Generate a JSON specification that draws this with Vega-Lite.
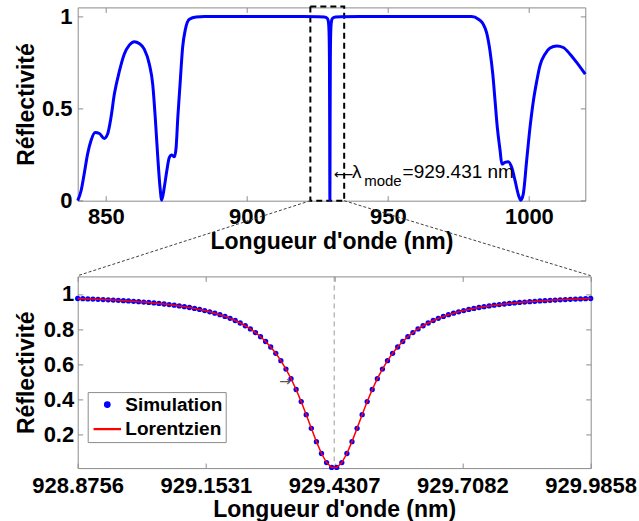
{
  "$schema": "https://vega.github.io/schema/vega-lite/v6.json",
  "padding": {"left": 14.7, "top": 4.4, "right": 0, "bottom": 0},
  "bounds": "flush",
  "spacing": 75,
  "config": {
    "view": {"stroke": "#8c8c8c", "strokeWidth": 1},
    "font": "Liberation Sans",
    "axis": {
      "domain": false, "grid": false, "tickSize": -5, "tickColor": "#8c8c8c", "tickWidth": 1,
      "labelFont": "Liberation Sans", "labelFontSize": 22, "labelFontWeight": "bold", "labelColor": "#000000",
      "titleFont": "Liberation Sans", "titleFontSize": 23, "titleFontWeight": "bold", "titleColor": "#000000",
      "labelFlush": false, "labelOverlap": false, "labelBound": false
    }
  },
  "datasets": {
    "spectre": [
      {"lambda": 840.0, "R": 0.0}, {"lambda": 841.2, "R": 0.054}, {"lambda": 842.3, "R": 0.145}, {"lambda": 843.5, "R": 0.253},
      {"lambda": 844.7, "R": 0.326}, {"lambda": 846.2, "R": 0.371}, {"lambda": 847.7, "R": 0.365}, {"lambda": 849.4, "R": 0.338},
      {"lambda": 850.6, "R": 0.362}, {"lambda": 851.8, "R": 0.452}, {"lambda": 853.0, "R": 0.579}, {"lambda": 854.8, "R": 0.705},
      {"lambda": 856.5, "R": 0.796}, {"lambda": 858.3, "R": 0.845}, {"lambda": 860.1, "R": 0.864}, {"lambda": 861.8, "R": 0.854},
      {"lambda": 863.6, "R": 0.823}, {"lambda": 865.4, "R": 0.742}, {"lambda": 866.6, "R": 0.633}, {"lambda": 867.5, "R": 0.452},
      {"lambda": 868.4, "R": 0.235}, {"lambda": 869.2, "R": 0.072}, {"lambda": 869.8, "R": 0.003}, {"lambda": 870.7, "R": 0.072},
      {"lambda": 871.6, "R": 0.163}, {"lambda": 872.5, "R": 0.235}, {"lambda": 873.3, "R": 0.248}, {"lambda": 874.3, "R": 0.239},
      {"lambda": 874.9, "R": 0.289}, {"lambda": 875.5, "R": 0.452}, {"lambda": 876.3, "R": 0.633}, {"lambda": 877.2, "R": 0.832},
      {"lambda": 878.2, "R": 0.932}, {"lambda": 879.6, "R": 0.986}, {"lambda": 882.0, "R": 0.998}, {"lambda": 885.0, "R": 1.0},
      {"lambda": 900.0, "R": 1.0}, {"lambda": 920.0, "R": 1.0}, {"lambda": 925.431, "R": 0.9995}, {"lambda": 927.431, "R": 0.998},
      {"lambda": 928.431, "R": 0.992}, {"lambda": 928.831, "R": 0.978}, {"lambda": 929.031, "R": 0.951}, {"lambda": 929.181, "R": 0.884},
      {"lambda": 929.281, "R": 0.734}, {"lambda": 929.351, "R": 0.442}, {"lambda": 929.391, "R": 0.17}, {"lambda": 929.431, "R": 0.005},
      {"lambda": 929.471, "R": 0.17}, {"lambda": 929.511, "R": 0.442}, {"lambda": 929.581, "R": 0.734}, {"lambda": 929.681, "R": 0.884},
      {"lambda": 929.831, "R": 0.951}, {"lambda": 930.031, "R": 0.978}, {"lambda": 930.431, "R": 0.992}, {"lambda": 931.431, "R": 0.998},
      {"lambda": 933.431, "R": 0.9995}, {"lambda": 940.0, "R": 1.0}, {"lambda": 960.0, "R": 1.0}, {"lambda": 979.7, "R": 1.0},
      {"lambda": 982.1, "R": 0.986}, {"lambda": 983.8, "R": 0.959}, {"lambda": 985.0, "R": 0.913}, {"lambda": 986.2, "R": 0.814},
      {"lambda": 987.2, "R": 0.687}, {"lambda": 988.0, "R": 0.543}, {"lambda": 988.8, "R": 0.398}, {"lambda": 989.8, "R": 0.271},
      {"lambda": 990.4, "R": 0.199}, {"lambda": 991.5, "R": 0.208}, {"lambda": 992.7, "R": 0.212}, {"lambda": 993.9, "R": 0.181},
      {"lambda": 995.1, "R": 0.109}, {"lambda": 996.2, "R": 0.036}, {"lambda": 997.1, "R": 0.003}, {"lambda": 998.0, "R": 0.036},
      {"lambda": 999.2, "R": 0.217}, {"lambda": 1000.4, "R": 0.398}, {"lambda": 1001.6, "R": 0.543}, {"lambda": 1002.8, "R": 0.651},
      {"lambda": 1003.9, "R": 0.733}, {"lambda": 1005.7, "R": 0.796}, {"lambda": 1007.5, "R": 0.829}, {"lambda": 1009.9, "R": 0.841},
      {"lambda": 1012.2, "R": 0.832}, {"lambda": 1014.6, "R": 0.796}, {"lambda": 1017.0, "R": 0.75}, {"lambda": 1020.0, "R": 0.687}
    ],
    "zoom": [
      {"lambda": 928.8756, "R": 0.9742}, {"lambda": 928.8866, "R": 0.9731}, {"lambda": 928.8976, "R": 0.972}, {"lambda": 928.9086, "R": 0.9709},
      {"lambda": 928.9196, "R": 0.9697}, {"lambda": 928.9306, "R": 0.9683}, {"lambda": 928.9416, "R": 0.967}, {"lambda": 928.9525, "R": 0.9655},
      {"lambda": 928.9635, "R": 0.9639}, {"lambda": 928.9745, "R": 0.9622}, {"lambda": 928.9855, "R": 0.9604}, {"lambda": 928.9965, "R": 0.9584},
      {"lambda": 929.0075, "R": 0.9563}, {"lambda": 929.0185, "R": 0.9541}, {"lambda": 929.0295, "R": 0.9517}, {"lambda": 929.0405, "R": 0.949},
      {"lambda": 929.0515, "R": 0.9462}, {"lambda": 929.0625, "R": 0.9431}, {"lambda": 929.0735, "R": 0.9398}, {"lambda": 929.0845, "R": 0.9362},
      {"lambda": 929.0954, "R": 0.9322}, {"lambda": 929.1064, "R": 0.9279}, {"lambda": 929.1174, "R": 0.9231}, {"lambda": 929.1284, "R": 0.9179},
      {"lambda": 929.1394, "R": 0.9122}, {"lambda": 929.1504, "R": 0.9058}, {"lambda": 929.1614, "R": 0.8988}, {"lambda": 929.1724, "R": 0.8909},
      {"lambda": 929.1834, "R": 0.8822}, {"lambda": 929.1944, "R": 0.8724}, {"lambda": 929.2054, "R": 0.8615}, {"lambda": 929.2164, "R": 0.8491},
      {"lambda": 929.2273, "R": 0.8351}, {"lambda": 929.2383, "R": 0.8193}, {"lambda": 929.2493, "R": 0.8013}, {"lambda": 929.2603, "R": 0.7807},
      {"lambda": 929.2713, "R": 0.757}, {"lambda": 929.2823, "R": 0.7299}, {"lambda": 929.2933, "R": 0.6986}, {"lambda": 929.3043, "R": 0.6626},
      {"lambda": 929.3153, "R": 0.621}, {"lambda": 929.3263, "R": 0.5733}, {"lambda": 929.3373, "R": 0.5186}, {"lambda": 929.3483, "R": 0.4568},
      {"lambda": 929.3593, "R": 0.3881}, {"lambda": 929.3702, "R": 0.3136}, {"lambda": 929.3812, "R": 0.2362}, {"lambda": 929.3922, "R": 0.1604},
      {"lambda": 929.4032, "R": 0.0929}, {"lambda": 929.4142, "R": 0.0415}, {"lambda": 929.4252, "R": 0.0136},
      {"lambda": 929.4362, "R": 0.0136}, {"lambda": 929.4472, "R": 0.0415}, {"lambda": 929.4582, "R": 0.0929}, {"lambda": 929.4692, "R": 0.1604},
      {"lambda": 929.4802, "R": 0.2362}, {"lambda": 929.4912, "R": 0.3136}, {"lambda": 929.5021, "R": 0.3881}, {"lambda": 929.5131, "R": 0.4568},
      {"lambda": 929.5241, "R": 0.5186}, {"lambda": 929.5351, "R": 0.5733}, {"lambda": 929.5461, "R": 0.621}, {"lambda": 929.5571, "R": 0.6626},
      {"lambda": 929.5681, "R": 0.6986}, {"lambda": 929.5791, "R": 0.7299}, {"lambda": 929.5901, "R": 0.757}, {"lambda": 929.6011, "R": 0.7807},
      {"lambda": 929.6121, "R": 0.8013}, {"lambda": 929.6231, "R": 0.8193}, {"lambda": 929.6341, "R": 0.8351}, {"lambda": 929.645, "R": 0.8491},
      {"lambda": 929.656, "R": 0.8615}, {"lambda": 929.667, "R": 0.8724}, {"lambda": 929.678, "R": 0.8822}, {"lambda": 929.689, "R": 0.8909},
      {"lambda": 929.7, "R": 0.8988}, {"lambda": 929.711, "R": 0.9058}, {"lambda": 929.722, "R": 0.9122}, {"lambda": 929.733, "R": 0.9179},
      {"lambda": 929.744, "R": 0.9231}, {"lambda": 929.755, "R": 0.9279}, {"lambda": 929.766, "R": 0.9322}, {"lambda": 929.7769, "R": 0.9362},
      {"lambda": 929.7879, "R": 0.9398}, {"lambda": 929.7989, "R": 0.9431}, {"lambda": 929.8099, "R": 0.9462}, {"lambda": 929.8209, "R": 0.949},
      {"lambda": 929.8319, "R": 0.9517}, {"lambda": 929.8429, "R": 0.9541}, {"lambda": 929.8539, "R": 0.9563}, {"lambda": 929.8649, "R": 0.9584},
      {"lambda": 929.8759, "R": 0.9604}, {"lambda": 929.8869, "R": 0.9622}, {"lambda": 929.8979, "R": 0.9639}, {"lambda": 929.9089, "R": 0.9655},
      {"lambda": 929.9198, "R": 0.967}, {"lambda": 929.9308, "R": 0.9683}, {"lambda": 929.9418, "R": 0.9697}, {"lambda": 929.9528, "R": 0.9709},
      {"lambda": 929.9638, "R": 0.972}, {"lambda": 929.9748, "R": 0.9731}, {"lambda": 929.9858, "R": 0.9742}
    ]
  },
  "resolve": {"scale": {"color": "independent", "shape": "independent", "size": "independent"}, "legend": {"color": "independent", "shape": "independent", "size": "independent"}},
  "vconcat": [
    {
      "width": 507.6,
      "height": 193.3,
      "resolve": {"axis": {"x": "independent", "y": "independent"}},
      "layer": [
        {
          "data": {"values": [{"xa": 922.5, "xb": 934.5, "ya": 0, "yb": 1.055}]},
          "mark": {"type": "rect", "filled": false, "stroke": "#000000", "strokeWidth": 2, "strokeDash": [6, 4]},
          "encoding": {
            "x": {"field": "xa", "type": "quantitative", "scale": {"domain": [840, 1020], "nice": false, "zero": false},
                  "axis": {"orient": "top", "values": [850, 900, 950, 1000], "labels": false, "title": null}},
            "x2": {"field": "xb"},
            "y": {"field": "ya", "type": "quantitative", "scale": {"domain": [0, 1.05], "nice": false, "zero": false},
                  "axis": {"orient": "right", "values": [0, 0.5, 1], "labels": false, "title": null}},
            "y2": {"field": "yb"}
          }
        },
        {
          "data": {"name": "spectre"},
          "mark": {"type": "line", "color": "#0000ff", "strokeWidth": 3, "interpolate": "monotone", "strokeJoin": "round"},
          "encoding": {
            "x": {"field": "lambda", "type": "quantitative", "scale": {"domain": [840, 1020], "nice": false, "zero": false},
                  "axis": {"orient": "bottom", "values": [850, 900, 950, 1000], "labelExpr": "'' + datum.value", "title": "Longueur d'onde (nm)",
                           "labelPadding": 11.3, "titleY": 47.5, "titleBaseline": "alphabetic"}},
            "y": {"field": "R", "type": "quantitative", "scale": {"domain": [0, 1.05], "nice": false, "zero": false},
                  "axis": {"orient": "left", "values": [0, 0.5, 1], "labelExpr": "'' + datum.value", "title": "Réflectivité",
                           "labelPadding": 10.7, "titleX": -43.7, "titleBaseline": "alphabetic"}}
          }
        },
        {
          "data": {"values": [{"xa": 922.5, "ya": 0, "xb": 840, "yb": -0.4074}, {"xa": 934.5, "ya": 0, "xb": 1021.9, "yb": -0.4074}]},
          "mark": {"type": "rule", "color": "#404040", "strokeWidth": 1, "strokeDash": [3, 2]},
          "encoding": {
            "x": {"field": "xa", "type": "quantitative", "scale": {"domain": [840, 1020], "nice": false, "zero": false}, "axis": null},
            "y": {"field": "ya", "type": "quantitative", "scale": {"domain": [0, 1.05], "nice": false, "zero": false}, "axis": null},
            "x2": {"field": "xb"},
            "y2": {"field": "yb"}
          }
        },
        {
          "data": {"values": [{"x": 930.8, "y": 0.14, "t": "⟵"}]},
          "mark": {"type": "text", "align": "left", "baseline": "middle", "fontSize": 13.5, "font": "DejaVu Sans", "color": "#000000"},
          "encoding": {
            "x": {"field": "x", "type": "quantitative", "scale": {"domain": [840, 1020], "nice": false, "zero": false}, "axis": null},
            "y": {"field": "y", "type": "quantitative", "scale": {"domain": [0, 1.05], "nice": false, "zero": false}, "axis": null},
            "text": {"field": "t"}
          }
        },
        {
          "data": {"values": [{"x": 937.3, "y": 0.123, "t": "λ"}]},
          "mark": {"type": "text", "align": "left", "baseline": "alphabetic", "fontSize": 19, "font": "Liberation Sans", "color": "#000000"},
          "encoding": {
            "x": {"field": "x", "type": "quantitative", "scale": {"domain": [840, 1020], "nice": false, "zero": false}, "axis": null},
            "y": {"field": "y", "type": "quantitative", "scale": {"domain": [0, 1.05], "nice": false, "zero": false}, "axis": null},
            "text": {"field": "t"}
          }
        },
        {
          "data": {"values": [{"x": 941.6, "y": 0.0814, "t": "mode"}]},
          "mark": {"type": "text", "align": "left", "baseline": "alphabetic", "fontSize": 15, "font": "Liberation Sans", "color": "#000000"},
          "encoding": {
            "x": {"field": "x", "type": "quantitative", "scale": {"domain": [840, 1020], "nice": false, "zero": false}, "axis": null},
            "y": {"field": "y", "type": "quantitative", "scale": {"domain": [0, 1.05], "nice": false, "zero": false}, "axis": null},
            "text": {"field": "t"}
          }
        },
        {
          "data": {"values": [{"x": 955.2, "y": 0.123, "t": "=929.431 nm"}]},
          "mark": {"type": "text", "align": "left", "baseline": "alphabetic", "fontSize": 19, "font": "Liberation Sans", "color": "#000000"},
          "encoding": {
            "x": {"field": "x", "type": "quantitative", "scale": {"domain": [840, 1020], "nice": false, "zero": false}, "axis": null},
            "y": {"field": "y", "type": "quantitative", "scale": {"domain": [0, 1.05], "nice": false, "zero": false}, "axis": null},
            "text": {"field": "t"}
          }
        }
      ]
    },
    {
      "width": 513,
      "height": 191.7,
      "resolve": {"axis": {"x": "independent", "y": "independent"}},
      "layer": [
        {
          "data": {"values": [{"x": 929.4307}]},
          "mark": {"type": "rule", "color": "#999999", "strokeWidth": 1, "strokeDash": [5, 4]},
          "encoding": {
            "x": {"field": "x", "type": "quantitative", "scale": {"domain": [928.8756, 929.9858], "nice": false, "zero": false}, "axis": null}
          }
        },
        {
          "data": {"name": "zoom"},
          "mark": {"type": "point", "filled": true, "opacity": 1},
          "encoding": {
            "x": {"field": "lambda", "type": "quantitative", "scale": {"domain": [928.8756, 929.9858], "nice": false, "zero": false},
                  "axis": {"orient": "bottom", "values": [928.8756, 929.1531, 929.4307, 929.7082, 929.9858], "labelExpr": "'' + datum.value",
                           "title": "Longueur d'onde (nm)", "labelPadding": 12, "titleY": 48.3, "titleBaseline": "alphabetic"}},
            "y": {"field": "R", "type": "quantitative", "scale": {"domain": [0.01, 1.1], "nice": false, "zero": false},
                  "axis": {"orient": "left", "values": [0.2, 0.4, 0.6, 0.8, 1], "labelExpr": "'' + datum.value", "title": "Réflectivité",
                           "labelPadding": 9, "titleX": -44, "titleBaseline": "alphabetic"}},
            "color": {"datum": "Simulation", "type": "nominal",
                      "scale": {"domain": ["Simulation", "Lorentzien"], "range": ["#0000ff", "#ff0000"]},
                      "legend": {
                        "orient": "none", "legendX": 10, "legendY": 115.7, "title": null,
                        "padding": 3, "strokeColor": "#8c8c8c", "fillColor": "#ffffff",
                        "symbolOffset": 2.6, "labelOffset": 4, "rowPadding": 0,
                        "labelFont": "Liberation Sans", "labelFontSize": 19, "labelFontWeight": "bold", "labelColor": "#000000",
                        "labelExpr": "datum.label + '\u00a0\u00a0\u00a0\u00a0'"
                      }},
            "shape": {"datum": "Simulation", "type": "nominal",
                      "scale": {"domain": ["Simulation", "Lorentzien"], "range": ["circle", "M-1,-0.03H1V0.03H-1Z"]}},
            "size": {"datum": "Simulation", "type": "nominal",
                     "scale": {"type": "point", "padding": 0, "domain": ["Simulation", "Lorentzien"], "range": [28, 676]}}
          }
        },
        {
          "data": {"name": "zoom"},
          "mark": {"type": "line", "strokeWidth": 1.5},
          "encoding": {
            "x": {"field": "lambda", "type": "quantitative", "scale": {"domain": [928.8756, 929.9858], "nice": false, "zero": false},
                  "axis": {"orient": "top", "values": [928.8756, 929.1531, 929.4307, 929.7082, 929.9858], "labels": false, "title": null}},
            "y": {"field": "R", "type": "quantitative", "scale": {"domain": [0.01, 1.1], "nice": false, "zero": false},
                  "axis": {"orient": "right", "values": [0.2, 0.4, 0.6, 0.8, 1], "labels": false, "title": null}},
            "color": {"datum": "Lorentzien", "type": "nominal", "scale": {"domain": ["Simulation", "Lorentzien"], "range": ["#0000ff", "#ff0000"]}}
          }
        },
        {
          "data": {"values": [{"x": 929.3247, "y": 0.499, "t": "→"}]},
          "mark": {"type": "text", "align": "center", "baseline": "middle", "fontSize": 14, "font": "DejaVu Sans", "color": "#555555"},
          "encoding": {
            "x": {"field": "x", "type": "quantitative", "scale": {"domain": [928.8756, 929.9858], "nice": false, "zero": false}, "axis": null},
            "y": {"field": "y", "type": "quantitative", "scale": {"domain": [0.01, 1.1], "nice": false, "zero": false}, "axis": null},
            "text": {"field": "t"}
          }
        }
      ]
    }
  ]
}
